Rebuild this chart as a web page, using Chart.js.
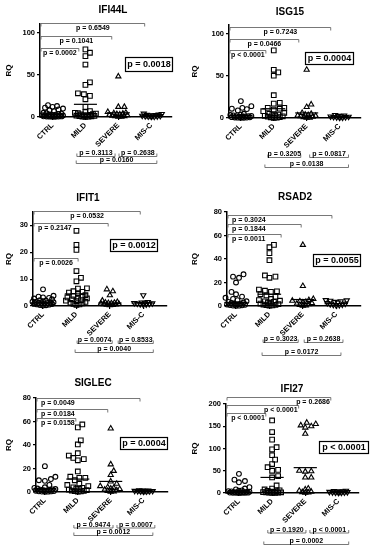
<!DOCTYPE html>
<html>
<head>
<meta charset="utf-8">
<script src="https://cdn.jsdelivr.net/npm/chart.js@4.4.1/dist/chart.umd.min.js"></script>
<style>
  body { margin: 0; background: #fff; }
  #wrap { position: relative; width: 372px; height: 550px; background: #fff; }
  #wrap canvas { position: absolute; }
</style>
</head>
<body>
<div id="wrap"></div>
<script>
// ── DATA ─────────────────────────────────────────────
const categories = ['CTRL', 'MILD', 'SEVERE', 'MIS-C'];
const TICKS_100 = [0, 50, 100];
const TICKS_30 = [0, 10, 20, 30];
const TICKS_80 = [0, 20, 40, 60, 80];
const TICKS_200 = [0, 50, 100, 150, 200];

const IFI44L_CTRL = [14, 13, 12, 11, 10, 9, 8, 7, 5, 4.5, 4, 3.5, 3, 2.8, 2.5, 2.2, 2, 1.8, 1.6, 1.4, 1.2, 1, 0.9, 0.8, 0.7, 0.6, 0.5, 0.4, 0.3, 0.2];
const IFI44L_MILD = [80, 76, 72, 62, 41, 38, 28, 27, 25, 21, 12, 7, 6, 5, 4.5, 4, 3.5, 3, 2.5, 2, 1.8, 1.5, 1.2, 1, 0.8, 0.6, 0.4, 0.3];
const IFI44L_SEVERE = [48, 12, 12, 6, 5, 4.5, 4, 3.5, 3, 2.5, 2, 1.5, 1, 0.8, 0.5, 0.3];
const IFI44L_MISC = [4, 3.5, 3, 2.5, 2.2, 2, 1.8, 1.5, 1.2, 1, 0.8, 0.6, 0.4, 0.3];
const IFI44L_MEANS = [3, 15, 5, 1.5];

const ISG15_CTRL = [20, 14, 12, 11, 10.5, 9, 5, 4, 3.5, 3, 2.5, 2.2, 2, 1.8, 1.5, 1.2, 1, 0.8, 0.6, 0.5, 0.4, 0.3, 0.2];
const ISG15_MILD = [80, 57, 54, 50, 27, 18, 17, 12, 12, 11, 10, 8, 6, 5, 4, 3.5, 3, 2.5, 2, 1.5, 1, 0.8, 0.5, 0.3];
const ISG15_SEVERE = [57, 16, 13, 6, 5, 4, 3.5, 3, 2.5, 2, 1.5, 1, 0.5, 0.3];
const ISG15_MISC = [3.5, 3, 2.5, 2, 1.8, 1.5, 1.2, 1, 0.8, 0.5, 0.3];
const ISG15_MEANS = [3, 11, 6, 1.5];

const IFIT1_CTRL = [6.2, 3.8, 3.5, 3.2, 3, 2.8, 2.5, 2.2, 2, 1.8, 1.6, 1.5, 1.4, 1.3, 1.2, 1.1, 1, 0.9, 0.8, 0.7, 0.6, 0.5, 0.4, 0.3, 0.2];
const IFIT1_MILD = [28, 22.8, 20.9, 13, 10.5, 9.2, 6.6, 6.5, 5.5, 5.3, 5, 4.5, 4, 3.8, 3.5, 3.2, 3, 2.8, 2.5, 2.2, 2, 1.8, 1.5, 1.2, 1, 0.8, 0.6, 0.4];
const IFIT1_SEVERE = [6.2, 5.5, 4, 2, 1.5, 1.3, 1.2, 1.1, 1, 0.9, 0.8, 0.7, 0.6, 0.5, 0.4, 0.3];
const IFIT1_MISC = [4, 1.5, 1.3, 1.2, 1.1, 1, 0.9, 0.8, 0.7, 0.6, 0.5];
const IFIT1_MEANS = [1.2, 4.5, 1.1, 1.1];

const RSAD2_CTRL = [27, 25, 24, 20, 12, 10, 8, 7, 6, 5, 4, 3.5, 3, 2.5, 2, 1.8, 1.5, 1.2, 1, 0.8, 0.6, 0.4, 0.3, 0.2];
const RSAD2_MILD = [52, 50, 45, 39, 26, 25, 24, 14, 13, 12.5, 12, 10, 9, 8, 6, 5, 4.5, 4, 3.5, 3, 2.5, 2, 1.5, 1.2, 1, 0.8, 0.5, 0.3];
const RSAD2_SEVERE = [52, 17, 6, 5, 4.5, 4, 3.5, 3, 2.5, 2, 1.5, 1, 0.5, 0.3];
const RSAD2_MISC = [5, 4.8, 4.5, 4, 3.5, 3, 2.5, 2, 1.5, 1.2, 1, 0.8, 0.5];
const RSAD2_MEANS = [3, 10, 5.5, 2];

const SIGLEC_CTRL = [22, 13, 11, 10, 9.5, 6, 4, 3.5, 3, 2.5, 2.2, 2, 1.8, 1.5, 1.2, 1, 0.8, 0.6, 0.5, 0.4, 0.3, 0.2];
const SIGLEC_MILD = [57.5, 55, 44, 40.5, 33, 31, 29, 28, 27, 17.5, 13, 12, 12, 10, 7, 6, 5, 4, 3.5, 3, 2.5, 2, 1.5, 1.2, 1, 0.8, 0.5, 0.3];
const SIGLEC_SEVERE = [54, 23.5, 18, 14.5, 9, 7, 5, 4, 3.5, 3, 2.5, 2, 1.5, 1, 0.5, 0.3];
const SIGLEC_MISC = [1.5, 1.3, 1.2, 1.1, 1, 0.9, 0.8, 0.7, 0.6, 0.5, 0.4];
const SIGLEC_MEANS = [3, 11, 9, 1];

const IFI27_CTRL = [43, 30, 27, 24, 13, 10, 8, 6, 5, 4, 3.5, 3, 2.5, 2, 1.8, 1.5, 1.2, 1, 0.8, 0.6, 0.5, 0.4, 0.3, 0.2];
const IFI27_MILD = [163, 137, 120, 103, 98, 85, 75, 65, 58, 52, 50, 38, 35, 17, 10, 8, 6, 5, 4, 3, 2.5, 2, 1.5, 1.2, 1, 0.8, 0.5, 0.3];
const IFI27_SEVERE = [158, 155, 152, 150, 147, 133, 50, 49, 48, 35, 35, 10, 8, 5, 3, 2, 1, 0.5];
const IFI27_MISC = [5, 4.5, 4, 3.5, 3, 2.5, 2, 1.5, 1.2, 1, 0.8, 0.5];
const IFI27_MEANS = [4, 35, 57, 2];

// p-values: top = CTRL vs MIS-C / SEVERE / MILD, bottom = MILD-SEVERE, SEVERE-MIS-C, MILD-MIS-C
const IFI44L_P = ['p = 0.0018', ['p = 0.6549', 'p = 0.1041', 'p = 0.0002'], ['p = 0.3113', 'p = 0.2638', 'p = 0.0160']];
const ISG15_P = ['p = 0.0004', ['p = 0.7243', 'p = 0.0466', 'p < 0.0001'], ['p = 0.3205', 'p = 0.0817', 'p = 0.0138']];
const IFIT1_P = ['p = 0.0012', ['p = 0.0532', 'p = 0.2147', 'p = 0.0026'], ['p = 0.0074', 'p = 0.8533', 'p = 0.0040']];
const RSAD2_P = ['p = 0.0055', ['p = 0.3024', 'p = 0.1844', 'p = 0.0011'], ['p = 0.3023', 'p = 0.2638', 'p = 0.0172']];
const SIGLEC_P = ['p = 0.0004', ['p = 0.0049', 'p = 0.0184', 'p = 0.0158'], ['p = 0.9474', 'p = 0.0007', 'p = 0.0012']];
const IFI27_P = ['p < 0.0001', ['p = 0.2686', 'p < 0.0001', 'p < 0.0001'], ['p = 0.1920', 'p < 0.0001', 'p = 0.0002']];

// ── LAYOUT ───────────────────────────────────────────
const FONT = '"Liberation Sans", Arial, sans-serif';
const panels = [
  { name: 'IFI44L', groups: [IFI44L_CTRL, IFI44L_MILD, IFI44L_SEVERE, IFI44L_MISC], means: IFI44L_MEANS, p: IFI44L_P, ticks: TICKS_100, max: 110,
    x: 0, y: 0, w: 186, h: 180, left: 40, right: 172, top: 24, y0: 117, xMin: -0.38, title: [113, 10], box: [125, 57, 47, 14],
    topTo: [2.8, 1.8, 0.8], topY: [23, 36, 48], topAlign: 'ccc', bot: [[0.74, 1.9], [2.02, 3.17], [0.72, 3.17]], rows: [39, 46] },
  { name: 'ISG15', groups: [ISG15_CTRL, ISG15_MILD, ISG15_SEVERE, ISG15_MISC], means: ISG15_MEANS, p: ISG15_P, ticks: TICKS_100, max: 110,
    x: 186, y: 0, w: 186, h: 180, left: 43, right: 175, top: 25, y0: 118, xMin: -0.36, title: [104, 12], box: [119, 52, 48, 12],
    topTo: [2.73, 1.76, 0.76], topY: [27, 39, 50], topAlign: 'ccc', bot: [[0.82, 1.82], [2.09, 3.27], [0.73, 3.27]], rows: [39, 49] },
  { name: 'IFIT1', groups: [IFIT1_CTRL, IFIT1_MILD, IFIT1_SEVERE, IFIT1_MISC], means: IFIT1_MEANS, p: IFIT1_P, ticks: TICKS_30, max: 35,
    x: 0, y: 180, w: 186, h: 183, left: 33, right: 167, top: 32, y0: 126, xMin: -0.3, title: [88, 18], box: [110, 59, 47, 12],
    topTo: [2.91, 1.95, 1.05], topY: [31, 43, 78], topAlign: 'clc', bot: [[1.02, 2.07], [2.25, 3.3], [0.96, 3.3]], rows: [37, 46] },
  { name: 'RSAD2', groups: [RSAD2_CTRL, RSAD2_MILD, RSAD2_SEVERE, RSAD2_MISC], means: RSAD2_MEANS, p: RSAD2_P, ticks: TICKS_80, max: 80,
    x: 186, y: 180, w: 186, h: 183, left: 41, right: 175, top: 32, y0: 126, xMin: -0.27, title: [109, 17], box: [127, 74, 47, 12],
    topTo: [2.87, 1.95, 1.35], topY: [35, 44, 54], topAlign: 'lll', bot: [[0.81, 1.86], [2.04, 3.2], [0.78, 3.14]], rows: [36, 49] },
  { name: 'SIGLEC', groups: [SIGLEC_CTRL, SIGLEC_MILD, SIGLEC_SEVERE, SIGLEC_MISC], means: SIGLEC_MEANS, p: SIGLEC_P, ticks: TICKS_80, max: 80,
    x: 0, y: 363, w: 186, h: 187, left: 36, right: 168, top: 35, y0: 129, xMin: -0.27, title: [93, 20], box: [120, 74, 47, 12],
    topTo: [2.89, 1.91, 0.94], topY: [35, 46, 55], topAlign: 'lll', bot: [[0.88, 2.07], [2.19, 3.34], [0.88, 3.28]], rows: [35.5, 43] },
  { name: 'IFI27', groups: [IFI27_CTRL, IFI27_MILD, IFI27_SEVERE, IFI27_MISC], means: IFI27_MEANS, p: IFI27_P, ticks: TICKS_200, max: 200,
    x: 186, y: 363, w: 186, h: 187, left: 40, right: 173, top: 41, y0: 130, xMin: -0.39, title: [106, 26], box: [133, 78, 49, 12],
    topTo: [2.77, 1.8, 0.81], topY: [34, 42, 50], topAlign: 'rrr', bot: [[0.87, 2.02], [2.14, 3.31], [0.75, 3.31]], rows: [39.5, 51] }
];

const markers = [
  { style: 'circle', r: 2.4, rot: 0 },
  { style: 'rect', r: 3.3, rot: 0 },
  { style: 'triangle', r: 3.0, rot: 0 },
  { style: 'triangle', r: 3.0, rot: 180 }
];

// spread points sideways like a dot plot (pixel space); points near the axis
// are packed tightly so they merge into a dark band as in the original
function swarm(vals, pxY, pxX) {
  const placed = [], offs = new Array(vals.length);
  const order = vals.map((v, i) => i).sort((a, b) => vals[a] - vals[b]);
  const cap = 10.5;
  order.forEach(i => {
    const y = vals[i] * pxY;
    const d = y > 5 ? 5 : 3;
    let chosen = null, bestX = 0, bestD = -1;
    for (let s = 0; s <= cap && chosen === null; s += 1.5) {
      for (const dx of (s ? [s, -s] : [0])) {
        let m = Infinity;
        placed.forEach(p => { m = Math.min(m, Math.hypot(p[0] - dx, p[1] - y)); });
        if (m >= d) { chosen = dx; break; }
        if (m > bestD) { bestD = m; bestX = dx; }
      }
    }
    const x = chosen !== null ? chosen : bestX;
    placed.push([x, y]);
    offs[i] = x / pxX;
  });
  return offs;
}

function annot(P) {
  return {
    id: 'annot',
    afterDraw(chart) {
      const ctx = chart.ctx, xs = chart.scales.x, area = chart.chartArea;
      ctx.save();
      ctx.fillStyle = '#000';
      ctx.textBaseline = 'middle';
      ctx.textAlign = 'center';
      ctx.font = 'bold 10px ' + FONT;
      ctx.fillText(P.name, P.title[0], P.title[1]);

      const b = P.box;
      ctx.strokeStyle = '#000';
      ctx.lineWidth = 1.2;
      ctx.strokeRect(b[0] + 0.5, b[1] + 0.5, b[2], b[3]);
      ctx.font = 'bold 9px ' + FONT;
      ctx.fillText(P.p[0], b[0] + b[2] / 2 + 0.5, b[1] + b[3] / 2 + 1);

      ctx.font = 'bold 7px ' + FONT;
      ctx.strokeStyle = '#555';
      ctx.lineWidth = 0.8;
      P.p[1].forEach((t, i) => {
        const x1 = area.left + 1, x2 = xs.getPixelForValue(P.topTo[i]), y = P.topY[i] + 0.5;
        ctx.beginPath();
        ctx.moveTo(x1, y + 3); ctx.lineTo(x1, y); ctx.lineTo(x2, y); ctx.lineTo(x2, y + 3);
        ctx.stroke();
        const al = P.topAlign[i];
        let tx = (x1 + x2) / 2;
        ctx.textAlign = 'center';
        if (al === 'l') { tx = area.left + 5; ctx.textAlign = 'left'; }
        if (al === 'r') { tx = x2 - 1; ctx.textAlign = 'right'; }
        ctx.fillText(t, tx, y + 4.5);
      });

      ctx.textAlign = 'center';
      P.p[2].forEach((t, i) => {
        const x1 = xs.getPixelForValue(P.bot[i][0]), x2 = xs.getPixelForValue(P.bot[i][1]);
        const y = area.bottom + P.rows[i < 2 ? 0 : 1] + 0.5;
        ctx.beginPath();
        ctx.moveTo(x1, y - 3); ctx.lineTo(x1, y); ctx.lineTo(x2, y); ctx.lineTo(x2, y - 3);
        ctx.stroke();
        ctx.fillText(t, (x1 + x2) / 2, y - 3);
      });
      ctx.restore();
    }
  };
}

const wrap = document.getElementById('wrap');
const axisFont = { family: FONT, weight: 'bold', size: 7.5 };

panels.forEach(P => {
  const cv = document.createElement('canvas');
  cv.width = P.w; cv.height = P.h;
  cv.style.left = P.x + 'px'; cv.style.top = P.y + 'px';
  cv.style.width = P.w + 'px'; cv.style.height = P.h + 'px';
  wrap.appendChild(cv);

  const xMax = P.xMin + 4.01;
  const pxX = (P.right - P.left) / 4.01;
  const pxY = (P.y0 - P.top) / P.max;

  const datasets = [];
  P.groups.forEach((vals, gi) => {
    const offs = swarm(vals, pxY, pxX);
    const mk = markers[gi];
    datasets.push({
      data: vals.map((v, k) => ({ x: gi + offs[k], y: v })),
      pointStyle: mk.style,
      pointRadius: mk.r,
      rotation: mk.rot,
      borderColor: '#000',
      backgroundColor: 'rgba(0,0,0,0)',
      pointBorderWidth: 1.1,
      clip: false
    });
  });
  P.means.forEach((m, gi) => {
    datasets.push({
      data: [{ x: gi - 0.35, y: m }, { x: gi + 0.35, y: m }],
      showLine: true,
      pointRadius: 0,
      borderColor: '#000',
      borderWidth: 1.2,
      clip: false
    });
  });

  new Chart(cv, {
    type: 'scatter',
    data: { datasets },
    options: {
      responsive: false,
      animation: false,
      devicePixelRatio: 1,
      events: [],
      layout: { padding: { left: 4, right: P.w - P.right, top: P.top, bottom: P.h - P.y0 - 30 } },
      plugins: { legend: { display: false }, tooltip: { enabled: false } },
      scales: {
        x: {
          type: 'linear', min: P.xMin, max: xMax, bounds: 'data',
          afterBuildTicks: s => { s.ticks = categories.map((c, i) => ({ value: i })); },
          afterFit: s => { s.height = 30; },
          ticks: { callback: v => categories[v], minRotation: 45, maxRotation: 45, autoSkip: false, font: axisFont, color: '#000', padding: 1 },
          grid: { drawOnChartArea: false, tickLength: 3, color: '#000', lineWidth: 1.2 },
          border: { color: '#000', width: 1.5 }
        },
        y: {
          min: 0, max: P.max, bounds: 'data',
          afterBuildTicks: s => { s.ticks = P.ticks.map(v => ({ value: v })); },
          afterFit: s => { s.width = P.left - 4; },
          ticks: { font: axisFont, color: '#000', padding: 2 },
          title: { display: true, text: 'RQ', font: { family: FONT, weight: 'bold', size: 8 }, color: '#000', padding: 0 },
          grid: { drawOnChartArea: false, tickLength: 3, color: '#000', lineWidth: 1.2 },
          border: { color: '#000', width: 1.5 }
        }
      }
    },
    plugins: [annot(P)]
  });
});
</script>
</body>
</html>
